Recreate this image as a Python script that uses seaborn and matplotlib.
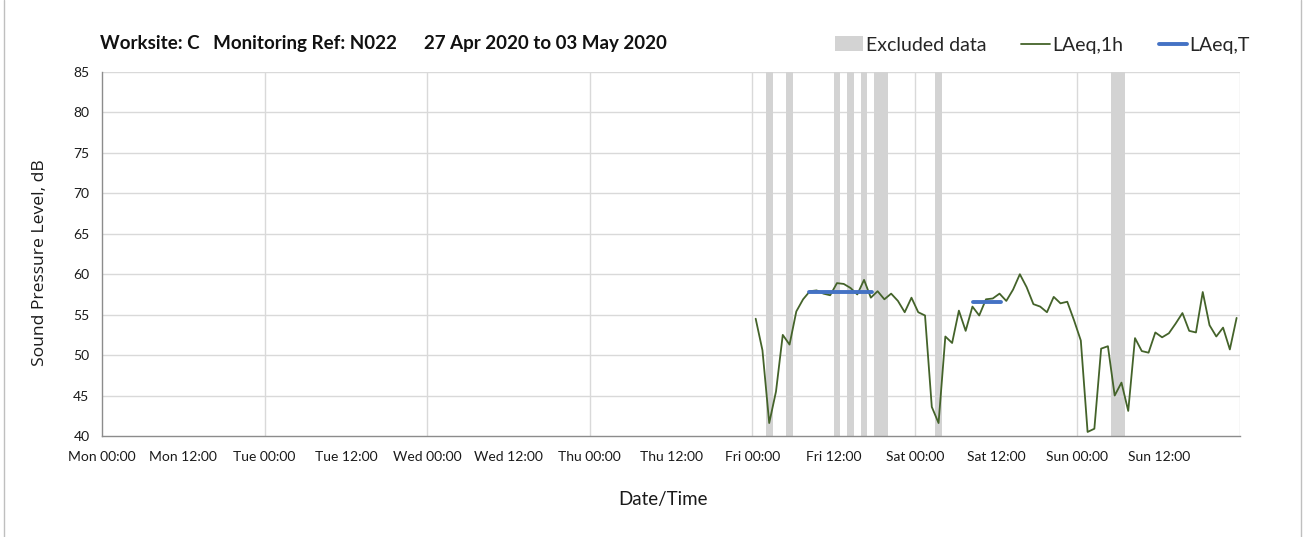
import numpy as np
import pandas as pd
import matplotlib
matplotlib.use("Agg")
import matplotlib.pyplot as plt
from matplotlib.lines import Line2D
from matplotlib.patches import Patch
import seaborn as sns

# ---- data ----
title = "Worksite: C   Monitoring Ref: N022      27 Apr 2020 to 03 May 2020"
tick_labels = ["Mon 00:00", "Mon 12:00", "Tue 00:00", "Tue 12:00", "Wed 00:00", "Wed 12:00",
               "Thu 00:00", "Thu 12:00", "Fri 00:00", "Fri 12:00", "Sat 00:00", "Sat 12:00",
               "Sun 00:00", "Sun 12:00"]
# hours since Mon 00:00 (hourly values centred on the half hour)
laeq_1h_hours = [96.5 + i for i in range(72)]
laeq_1h = [54.5, 50.6, 41.6, 45.5, 52.5, 51.3, 55.4, 56.9, 57.9, 58.0,
           57.6, 57.4, 58.9, 58.8, 58.3, 57.5, 59.3, 57.1, 57.9, 56.9,
           57.6, 56.7, 55.3, 57.1, 55.3, 54.9, 43.6, 41.6, 52.3, 51.5,
           55.5, 53.0, 56.0, 54.9, 56.9, 57.0, 57.6, 56.7, 58.1, 60.0,
           58.4, 56.3, 56.0, 55.3, 57.2, 56.4, 56.6, 54.3, 51.8, 40.5,
           40.9, 50.8, 51.1, 45.0, 46.6, 43.1, 52.1, 50.5, 50.3, 52.8,
           52.2, 52.7, 53.9, 55.2, 53.0, 52.8, 57.8, 53.7, 52.3, 53.4,
           50.7, 54.6]
laeq_t_start = [104.4, 128.6]
laeq_t_end = [113.6, 132.7]
laeq_t = [57.8, 56.6]
excl_start = [98.0, 101.0, 108.0, 110.0, 112.0, 114.0, 123.0, 149.0]
excl_end = [99.0, 102.0, 109.0, 111.0, 113.0, 116.0, 124.0, 151.0]

# ---- style ----
sns.set_theme(style="white")
plt.rcParams['font.family'] = ['Lato', 'DejaVu Sans']

GREEN = "#44632a"
BLUE = "#4472c4"
GREY = "#d3d3d3"
GRID = "#d9d9d9"
AXC = "#8c8c8c"
TXT = "#1a1a1a"

fig = plt.figure(figsize=(13.06, 5.37), dpi=100)
ax = fig.add_axes([102/1306, 1 - 436/537, (1240-102)/1306, (436-72)/537])

for s, e in zip(excl_start, excl_end):
    ax.axvspan(s, e, color=GREY, lw=0, zorder=1)

df = pd.DataFrame({"hour": laeq_1h_hours, "LAeq,1h": laeq_1h})
sns.lineplot(data=df, x="hour", y="LAeq,1h", ax=ax, color=GREEN, lw=1.3, zorder=3)

for s, e, v in zip(laeq_t_start, laeq_t_end, laeq_t):
    seg = pd.DataFrame({"hour": [s, e], "v": [v, v]})
    sns.lineplot(data=seg, x="hour", y="v", ax=ax, color=BLUE, lw=2.8, zorder=4)

ax.set_xlim(0, 168)
ax.set_ylim(40, 85)
ax.set_xticks(np.arange(0, 169, 12))
ax.set_xticklabels(tick_labels + [""], fontsize=10)
ax.set_yticks(np.arange(40, 86, 5))
ax.set_yticklabels([str(v) for v in range(40, 86, 5)], fontsize=10)

# grid
for v in range(45, 86, 5):
    ax.axhline(v, color=GRID, lw=1, zorder=0)
for h in range(24, 169, 24):
    ax.axvline(h, color=GRID, lw=1, zorder=0)

for sp in ["top", "right"]:
    ax.spines[sp].set_visible(False)
for sp in ["left", "bottom"]:
    ax.spines[sp].set_color(AXC)
    ax.spines[sp].set_linewidth(1)
ax.tick_params(axis="both", which="both", direction="out", length=5, width=1,
               color=AXC, labelcolor=TXT, pad=4)
ax.tick_params(axis="x", pad=6)

ax.set_xlabel("")
ax.set_ylabel("")
fig.text(663/1306, 1 - 499/537, "Date/Time", fontsize=13.5, color=TXT,
         ha="center", va="center")
fig.text(40/1306, 1 - 263/537, "Sound Pressure Level, dB", fontsize=12.6, color=TXT,
         ha="center", va="center", rotation=90, family=["Open Sans", "DejaVu Sans"])

fig.text(100/1306, 1 - 43/537, title, fontsize=13.5, fontweight="bold",
         va="center", ha="left", color="#111111")

handles = [Patch(facecolor=GREY, edgecolor="none"),
           Line2D([], [], color=GREEN, lw=1.3),
           Line2D([], [], color=BLUE, lw=2.8)]
fig.legend(handles, ["Excluded data", "LAeq,1h", "LAeq,T"], ncol=3, frameon=False,
           loc="center right", bbox_to_anchor=(1250/1306, 1 - 45/537),
           fontsize=14, handlelength=1.45, handleheight=0.8, handletextpad=0.15,
           columnspacing=1.8, borderaxespad=0, borderpad=0)

# figure border (sides)
fig.add_artist(Line2D([4/1306, 4/1306], [0, 1], color="#bfbfbf", lw=1, transform=fig.transFigure))
fig.add_artist(Line2D([1301/1306, 1301/1306], [0, 1], color="#bfbfbf", lw=1, transform=fig.transFigure))

fig.savefig("out.png", dpi=100)
